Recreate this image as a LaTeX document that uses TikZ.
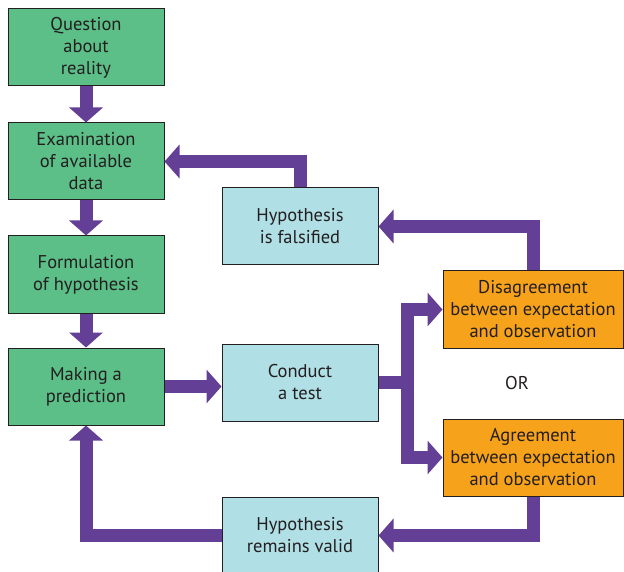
\documentclass[tikz,border=0pt]{standalone}
\usepackage{fontspec}
\setmainfont{PT Sans}
\usetikzlibrary{arrows.meta}
\definecolor{boxgreen}{HTML}{5BBF87}
\definecolor{boxblue}{HTML}{B0DFE5}
\definecolor{boxorange}{HTML}{F7A21B}
\definecolor{arrowpurple}{HTML}{643F96}
\definecolor{txtgray}{HTML}{231F20}
\tikzset{
  box/.style={draw=txtgray, line width=1pt, align=center, text=txtgray,
    minimum width=156pt, minimum height=77pt, inner sep=0pt,
    font=\fontsize{18.5}{22}\selectfont},
  gbox/.style={box, fill=boxgreen},
  bbox/.style={box, fill=boxblue},
  obox/.style={box, fill=boxorange, minimum width=180pt},
  shaft/.style={draw=arrowpurple, line width=13pt, line cap=butt, line join=miter},
  arr/.style={shaft, -{Triangle[width=33pt,length=15pt]}},
}
\begin{document}
\begin{tikzpicture}[x=1pt,y=-1pt]
\useasboundingbox (0,0) rectangle (624,572);
% nodes
\node[gbox] (q1) at (86,47.5) {Question\\about\\reality};
\node[gbox] (q2) at (86,161.5) {Examination\\of available\\data};
\node[gbox] (q3) at (86,274.5) {Formulation\\of hypothesis};
\node[gbox] (q4) at (86,386.5) {Making a\\prediction};
\node[bbox] (fal) at (300,226.5) {Hypothesis\\is falsified};
\node[bbox] (con) at (300,382.5) {Conduct\\a test};
\node[bbox] (val) at (300,535.5) {Hypothesis\\remains valid};
\node[obox] (dis) at (533,309.5) {Disagreement\\between expectation\\and observation};
\node[obox] (agr) at (533,457.5) {Agreement\\between expectation\\and observation};
\node[text=txtgray, font=\fontsize{18.5}{22}\selectfont] (or) at (517,383) {OR};
\coordinate (br) at (407,382.5);
% arrows
\draw[arr] (q1.south) -- (q2.north);
\draw[arr] (q2.south) -- (q3.north);
\draw[arr] (q3.south) -- (q4.north);
\draw[arr] (fal.north) |- (q2.east);
\draw[arr] (dis.north) |- (fal.east);
\draw[arr] (q4.east) -- (q4.east -| con.west);
\draw[shaft] (con.east) -- ([xshift=6.5pt]br);
\draw[arr] (br) |- (dis.west);
\draw[arr] (br) |- (agr.west);
\draw[arr] (agr.south) |- (val.east);
\draw[arr] (val.west) -| (q4.south);
\end{tikzpicture}
\end{document}
